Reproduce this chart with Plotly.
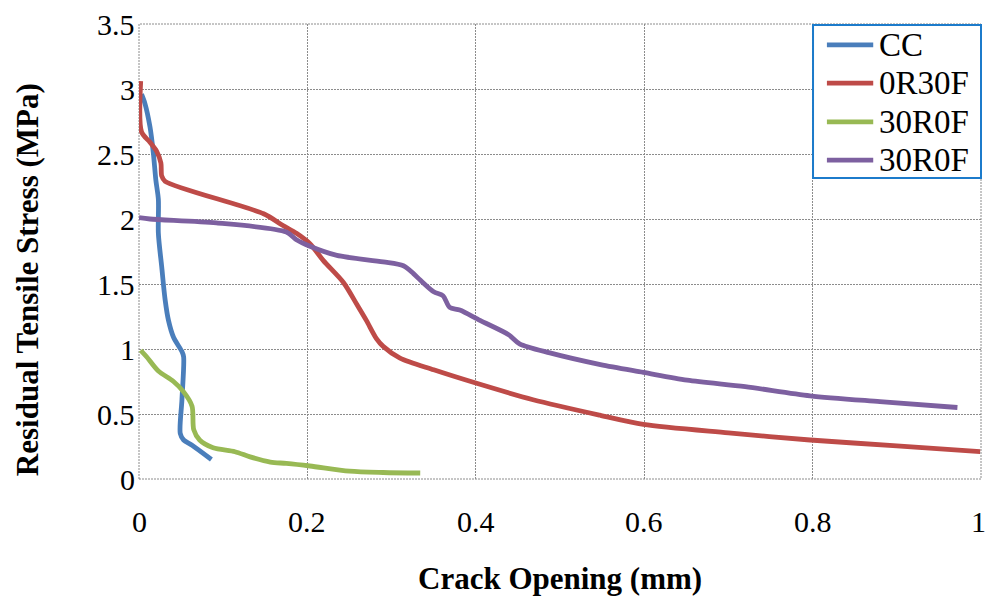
import plotly.graph_objects as go

# Residual tensile stress vs. crack opening for four mixes
cc_x = [0.003, 0.007, 0.013, 0.017, 0.020, 0.023, 0.023, 0.027, 0.031, 0.035, 0.041, 0.051,
        0.053, 0.051, 0.049, 0.053, 0.063, 0.086]
cc_y = [2.96, 2.89, 2.71, 2.51, 2.30, 2.15, 1.89, 1.63, 1.38, 1.22, 1.09, 0.98,
        0.94, 0.61, 0.35, 0.30, 0.26, 0.15]

r0f30_x = [0.002, 0.003, 0.013, 0.021, 0.026, 0.027, 0.031, 0.148, 0.171, 0.187, 0.203,
           0.219, 0.243, 0.259, 0.270, 0.282, 0.290, 0.310, 0.350, 0.399, 0.468, 0.548,
           0.599, 0.700, 0.797, 0.900, 0.999]
r0f30_y = [3.06, 2.67, 2.59, 2.52, 2.43, 2.33, 2.29, 2.04, 1.95, 1.89, 1.81,
           1.68, 1.51, 1.34, 1.22, 1.08, 1.02, 0.93, 0.84, 0.74, 0.61, 0.49,
           0.42, 0.355, 0.30, 0.255, 0.21]

r30f0_x = [0.002, 0.009, 0.023, 0.041, 0.053, 0.063, 0.065, 0.072, 0.088, 0.114, 0.132,
           0.156, 0.175, 0.203, 0.250, 0.290, 0.334]
r30f0_y = [0.99, 0.94, 0.83, 0.75, 0.67, 0.56, 0.38, 0.30, 0.24, 0.21, 0.17,
           0.13, 0.12, 0.10, 0.06, 0.05, 0.046]

r30f0b_x = [0.0, 0.013, 0.092, 0.175, 0.187, 0.203, 0.235, 0.290, 0.314, 0.326, 0.334,
            0.350, 0.361, 0.369, 0.381, 0.405, 0.439, 0.452, 0.488, 0.548, 0.599, 0.651,
            0.720, 0.797, 0.880, 0.972]
r30f0b_y = [2.01, 2.00, 1.97, 1.90, 1.84, 1.79, 1.72, 1.67, 1.64, 1.58, 1.53,
            1.44, 1.41, 1.32, 1.30, 1.22, 1.11, 1.04, 0.97, 0.88, 0.82, 0.76,
            0.71, 0.64, 0.595, 0.55]

series = [
    ("CC", cc_x, cc_y, "#4A7EBB"),
    ("0R30F", r0f30_x, r0f30_y, "#BE4B48"),
    ("30R0F", r30f0_x, r30f0_y, "#98B954"),
    ("30R0F", r30f0b_x, r30f0b_y, "#7D60A0"),
]

x_ticks = [0, 0.2, 0.4, 0.6, 0.8, 1]
x_labels = ["0", "0.2", "0.4", "0.6", "0.8", "1"]
y_ticks = [0, 0.5, 1, 1.5, 2, 2.5, 3, 3.5]
y_labels = ["0", "0.5", "1", "1.5", "2", "2.5", "3", "3.5"]

FONT = "Liberation Serif"
GRID = "#8c8c8c"
TICK_SIZE = 30

fig = go.Figure()
for name, xs, ys, color in series:
    fig.add_trace(go.Scatter(x=xs, y=ys, mode="lines", name=name, showlegend=False,
                             line=dict(color=color, width=4.8, shape="spline", smoothing=0.8)))

fig.update_layout(
    template="none",
    width=987, height=597,
    margin=dict(l=139, r=6, t=24, b=118),
    paper_bgcolor="white", plot_bgcolor="white",
    font=dict(family=FONT, color="black", size=TICK_SIZE),
    showlegend=False,
)

axis_common = dict(showgrid=True, gridcolor=GRID, griddash="2px,1px", gridwidth=1,
                   zeroline=False, showline=False, ticks="", showticklabels=False)
fig.update_xaxes(range=[0, 1], tickmode="array", tickvals=x_ticks, **axis_common)
fig.update_yaxes(range=[0, 3.5], tickmode="array", tickvals=y_ticks, **axis_common)

# tick labels placed on the axis scales (the last x label is nudged inside the page)
for v, t in zip(x_ticks, x_labels):
    fig.add_annotation(text=t, x=v, xref="x", y=-0.0945, yref="paper",
                       xanchor="center", yanchor="middle", showarrow=False,
                       xshift=-3 if v == x_ticks[-1] else 0,
                       font=dict(family=FONT, size=TICK_SIZE, color="black"))
for v, t in zip(y_ticks, y_labels):
    fig.add_annotation(text=t, y=v, yref="y", x=-0.002, xref="paper",
                       xanchor="right", yanchor="middle", showarrow=False,
                       font=dict(family=FONT, size=TICK_SIZE, color="black"))

# dotted frame around the plotting area
fig.add_shape(type="rect", xref="paper", yref="paper", x0=0, y0=0, x1=1, y1=1,
              line=dict(color=GRID, width=1, dash="2px,1px"), layer="below")

# legend box in the upper-right corner
fig.add_shape(type="rect", xref="paper", yref="paper", x0=0.8005, x1=1.0, y0=0.6615, y1=0.9978,
              fillcolor="white", line=dict(color="#1C7BCB", width=2), layer="above")
legend_rows = [0.954, 0.870, 0.785, 0.701]
for (name, _, _, color), ly in zip(series, legend_rows):
    fig.add_shape(type="line", xref="paper", yref="paper", x0=0.817, x1=0.872, y0=ly, y1=ly,
                  line=dict(color=color, width=4.8), layer="above")
    fig.add_annotation(text=name, xref="paper", yref="paper", x=0.877, y=ly,
                       xanchor="left", yanchor="middle", showarrow=False,
                       font=dict(family=FONT, size=33, color="black"))

fig.add_annotation(text="<b>Crack Opening (mm)</b>", xref="paper", yref="paper",
                   x=0.5, y=-0.218, xanchor="center", yanchor="middle",
                   showarrow=False, font=dict(family=FONT, size=31, color="black"))
fig.add_annotation(text="<b>Residual Tensile Stress (MPa)</b>", xref="paper", yref="paper",
                   x=-0.133, y=0.437, xanchor="center", yanchor="middle", textangle=-90,
                   showarrow=False, font=dict(family=FONT, size=31, color="black"))

fig.write_html("out.html")
